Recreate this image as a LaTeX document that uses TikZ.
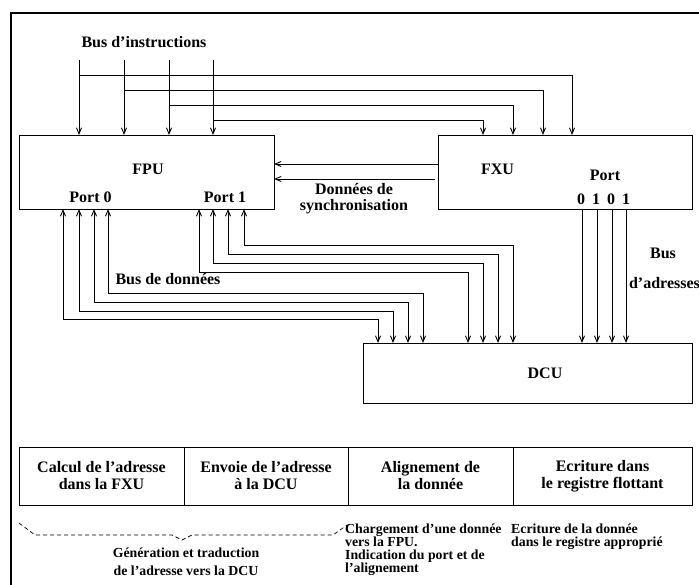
\documentclass[tikz,border=0pt]{standalone}
\usepackage{fontspec}
\setmainfont{Liberation Serif}
\usetikzlibrary{arrows.meta}
\begin{document}
\begin{tikzpicture}[x=1pt,y=-1pt,
  lbl/.style={font=\fontsize{16}{17}\selectfont\bfseries, inner sep=0},
  note/.style={font=\fontsize{13.8}{13}\selectfont\bfseries, inner sep=0, align=left},
  unitbox/.style={draw, line width=0.9pt, inner sep=0, outer sep=0},
  cell/.style={draw, line width=0.9pt, inner sep=0, outer sep=0, minimum height=58pt,
    align=center, font=\fontsize{16}{17}\selectfont\bfseries},
  wire/.style={line width=0.9pt},
  tip/.style={-{Straight Barb[length=6pt,width=5pt]}},
  bi/.style={{Straight Barb[length=6pt,width=5pt]}-{Straight Barb[length=6pt,width=5pt]}}]
\useasboundingbox (0,0) rectangle (699,585);
\clip (0,0) rectangle (699,585);

% outer frame
\draw[line width=2.5pt] (11,13) rectangle (760,640);

% units
\node[unitbox, minimum width=255pt, minimum height=74pt] (FPU) at (146.5,172) {};
\node[unitbox, minimum width=254pt, minimum height=74pt] (FXU) at (565,172) {};
\node[unitbox, minimum width=329pt, minimum height=60pt] (DCU) at (527.5,373) {};

\node[lbl] (fpul) at (148,169) {FPU};
\node[lbl] (p0) at (90.5,197) {Port 0};
\node[lbl] (p1) at (225,197) {Port 1};
\node[lbl] (fxul) at (497.5,169) {FXU};
\node[lbl] (fxport) at (605,175) {Port};
\foreach \n/\x/\d in {1/581/0,2/596/1,3/611/0,4/626/1}
  \node[lbl] (pd\n) at (\x,199) {\d};
\node[lbl] (dcul) at (545,373) {DCU};

% instruction bus
\node[lbl] (busi) at (144,42) {Bus d’instructions};
\foreach \n/\x/\y/\t in {1/79/75/572, 2/124/90/543, 3/169/105/513, 4/213/120/483} {
  \coordinate (ib\n) at (\x,60);
  \coordinate (ih\n) at (\x,\y);
  \coordinate (it\n) at (\t,0);
  \draw[wire,tip] (ib\n) -- (ib\n |- FPU.north);
  \draw[wire,tip] (ih\n) -| (it\n |- FXU.north);
}

% synchronisation data
\coordinate (s1) at (0,164);
\coordinate (s2) at (435,179);
\draw[wire,tip] (FXU.west |- s1) -- (FPU.east |- s1);
\draw[wire,tip] (s2) -- (FPU.east |- s2);
\node[lbl, align=center, font=\fontsize{16}{16}\selectfont\bfseries] (sync) at (354,199) {Données de\\synchronisation};

% data bus
\foreach \n/\a/\y/\b in {1/63/319/378, 2/79/311/393, 3/94/302/408, 4/108/293/423,
                         5/199/272/468, 6/213/263/483, 7/228/254/498, 8/244/245/513} {
  \coordinate (da\n) at (\a,\y);
  \coordinate (db\n) at (\b,\y);
  \draw[wire,bi] (da\n |- FPU.south) -- (da\n) -- (db\n) -- (db\n |- DCU.north);
}
\node[lbl] (busd) at (168,279) {Bus de données};

% address bus
\foreach \n/\x in {1/582,2/597,3/612,4/626} {
  \coordinate (ab\n) at (\x,0);
  \draw[wire,tip] (ab\n |- FXU.south) -- (ab\n |- DCU.north);
}
\node[lbl] (busa1) at (663,253) {Bus};
\node[lbl] (busa2) at (664.5,283) {d’adresses};

% pipeline stages
\node[cell, minimum width=165pt] (c1) at (101.5,476) {Calcul de l’adresse\\dans la FXU};
\node[cell, minimum width=164pt] (c2) at (266,476) {Envoie de l’adresse\\à la DCU};
\node[cell, minimum width=165pt] (c3) at (430.5,476) {Alignement de\\la donnée};
\node[cell, minimum width=179pt] (c4) at (602.5,476) {Ecriture dans\\le registre flottant};

% grouping brace and stage notes
\draw[line width=0.7pt, dash pattern=on 4pt off 3pt]
  (19,523) -- (35,535) -- (172,535) -- (182,540) -- (192,535) -- (333,535) -- (347,525);
\node[note, align=center, font=\fontsize{13.8}{18}\selectfont\bfseries] (gen) at (186,562)
  {Génération et traduction\\de l’adresse vers la DCU};
\node[note, anchor=north west] (chg) at (345,524)
  {Chargement d’une donnée\\vers la FPU.\\Indication du port et de\\l’alignement};
\node[note, anchor=north west] (ecr) at (511,524)
  {Ecriture de la donnée\\dans le registre approprié};
\end{tikzpicture}
\end{document}
